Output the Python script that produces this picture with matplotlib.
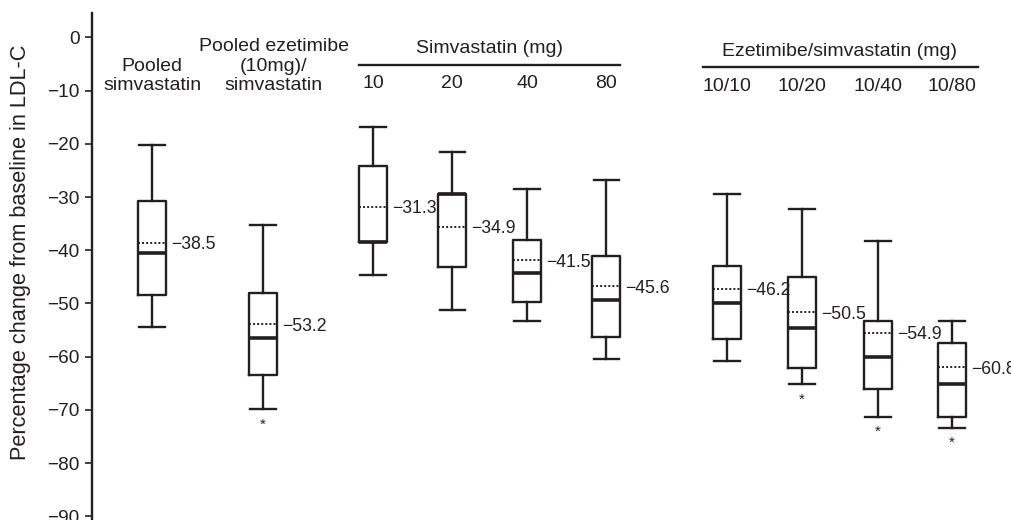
import matplotlib.pyplot as plt

plt.rcParams["font.family"] = ["Liberation Sans", "DejaVu Sans"]
plt.rcParams["axes.unicode_minus"] = True

ink = "#231f20"

# data (percentage change from baseline in LDL-C)
groups = ["Pooled\nsimvastatin", "Pooled ezetimibe\n(10mg)/\nsimvastatin",
          "10", "20", "40", "80", "10/10", "10/20", "10/40", "10/80"]
whis_hi = [-20.2, -35.2, -16.8, -21.6, -28.5, -26.8, -29.5, -32.3, -38.2, -53.3]
q3 = [-30.7, -48.0, -24.2, -29.5, -38.1, -41.1, -42.9, -45.1, -53.3, -57.5]
medians = [-40.5, -56.5, -38.4, -29.5, -44.2, -49.4, -49.9, -54.7, -60.0, -65.2]
q1 = [-48.4, -63.4, -38.4, -43.1, -49.7, -56.3, -56.6, -62.2, -66.1, -71.3]
whis_lo = [-54.5, -69.9, -44.7, -51.3, -53.3, -60.4, -60.9, -65.2, -71.3, -73.4]
means = [-38.6, -53.9, -31.8, -35.6, -41.9, -46.7, -47.2, -51.6, -55.5, -62.0]
mean_labels = [-38.5, -53.2, -31.3, -34.9, -41.5, -45.6, -46.2, -50.5, -54.9, -60.8]
significant = [False, True, False, False, False, False, False, True, True, True]

# layout
positions = [0, 1.44, 2.87, 3.9, 4.87, 5.9, 7.47, 8.44, 9.43, 10.39]
header_shift = [0.0, 0.14]
box_w = 0.36

stats = []
for i in range(len(groups)):
    stats.append(dict(whislo=whis_lo[i], q1=q1[i], med=medians[i], q3=q3[i],
                      whishi=whis_hi[i], mean=means[i], fliers=[]))

fig = plt.figure(figsize=(10.12, 5.2), dpi=100)
ax = fig.add_axes([92 / 1012, 0, 920 / 1012, 507 / 520])

line = dict(color=ink, linewidth=1.7)
ax.bxp(stats, positions=positions, widths=box_w, capwidths=0.33,
       showmeans=True, meanline=True, showfliers=False,
       boxprops=line, whiskerprops=line, capprops=line,
       medianprops=dict(color=ink, linewidth=2.6),
       meanprops=dict(color=ink, linewidth=1.4, linestyle=(0, (1, 1.1))))

for pos, m, lab in zip(positions, means, mean_labels):
    ax.text(pos + box_w / 2 + 0.07, m - 0.4, "\u2212%.1f" % abs(lab), ha="left",
            va="center", fontsize=12.7, color=ink)

for pos, lo, sig in zip(positions, whis_lo, significant):
    if sig:
        ax.text(pos, lo - 1.5, "*", ha="center", va="top", fontsize=11, color=ink)

# group headers
for pos, dx, lab in zip(positions[:2], header_shift, groups[:2]):
    ax.text(pos + dx, -9.9, lab, ha="center", va="baseline", fontsize=14,
            color=ink, linespacing=1.2)

ax.plot([positions[2] - 0.18, positions[5] + 0.18], [-5.2, -5.2], color=ink, lw=1.7,
        clip_on=False)
ax.text(sum(positions[2:6]) / 4, -2.0, "Simvastatin (mg)", ha="center",
        va="center", fontsize=14, color=ink)
ax.plot([positions[6] - 0.31, positions[9] + 0.34], [-5.6, -5.6], color=ink, lw=1.7,
        clip_on=False)
ax.text(sum(positions[6:10]) / 4, -2.7, "Ezetimibe/simvastatin (mg)", ha="center",
        va="center", fontsize=14, color=ink)
for pos, lab in zip(positions[2:6], groups[2:6]):
    ax.text(pos, -8.6, lab, ha="center", va="center", fontsize=14, color=ink)
for pos, lab in zip(positions[6:], groups[6:]):
    ax.text(pos, -9.2, lab, ha="center", va="center", fontsize=14, color=ink)

ax.set_xticks([])
ax.set_xlim(-0.78, 11.17)
ax.set_ylim(-90.7, 4.6)
ax.set_yticks(range(0, -91, -10))
ax.tick_params(axis="y", length=5, width=1.2, colors=ink, labelsize=13.7, pad=4)
for s in ["top", "right", "bottom"]:
    ax.spines[s].set_visible(False)
ax.spines["left"].set_linewidth(1.7)
ax.spines["left"].set_color(ink)

ax.set_ylabel("Percentage change from baseline in LDL-C", fontsize=15.7, color=ink)
ax.yaxis.set_label_coords(-0.066, 0.528)

fig.savefig("out.png", dpi=100)
